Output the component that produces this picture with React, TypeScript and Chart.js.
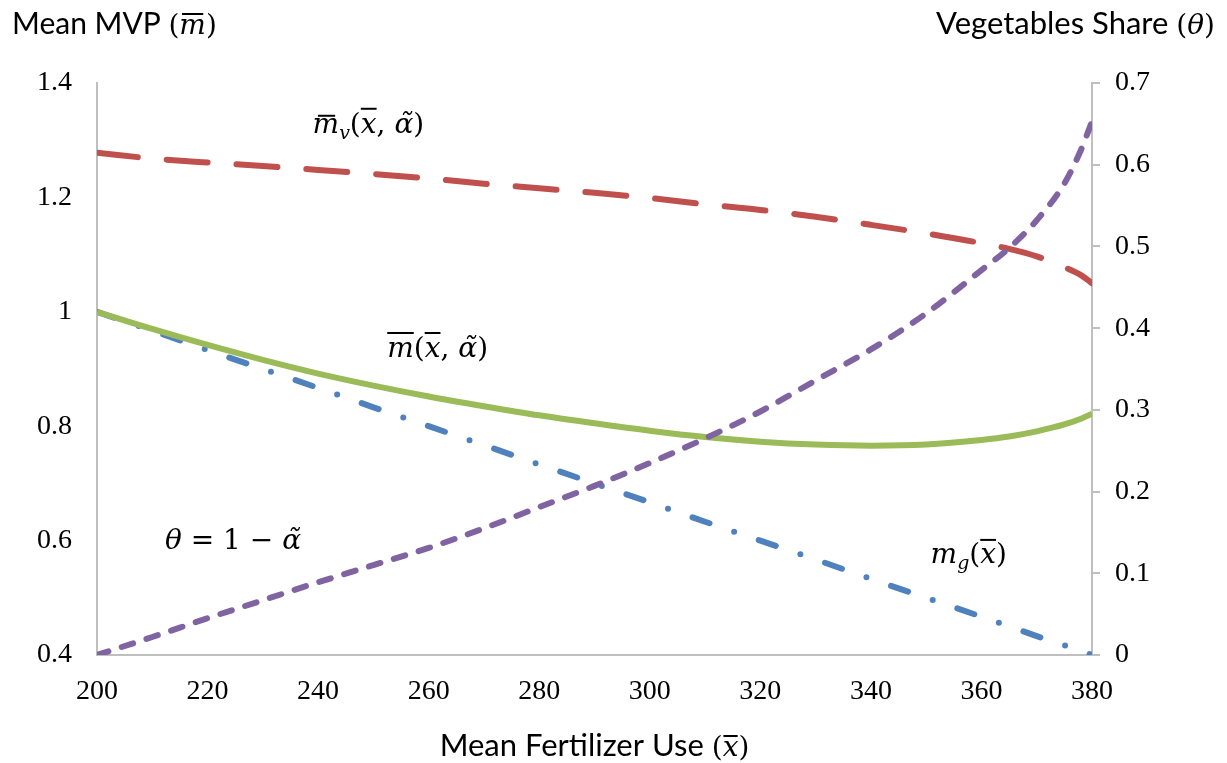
import React, { useEffect, useRef } from 'react';
import { Chart, registerables } from 'chart.js';

Chart.register(...registerables);

// Mean fertilizer use (x axis)
const fertilizer = [200, 210, 220, 230, 240, 250, 260, 270, 280, 290, 300, 310, 320, 330, 340, 350, 360, 365, 370, 375, 378, 380];
// m̄_v(x̄, α̃) – vegetables MVP (left axis)
const mvpVegetables = [1.278, 1.268, 1.261, 1.255, 1.248, 1.241, 1.233, 1.224, 1.216, 1.208, 1.199, 1.188, 1.178, 1.166, 1.152, 1.137, 1.120, 1.110, 1.097, 1.078, 1.064, 1.050];
// m̄(x̄, α̃) – mean MVP (left axis)
const mvpMean = [1.0, 0.970, 0.942, 0.916, 0.892, 0.871, 0.852, 0.835, 0.819, 0.805, 0.792, 0.781, 0.773, 0.768, 0.766, 0.768, 0.776, 0.782, 0.791, 0.803, 0.813, 0.822];
// m_g(x̄) – grain MVP (left axis)
const mvpGrain = [1.0, 0.967, 0.933, 0.9, 0.867, 0.833, 0.8, 0.767, 0.733, 0.7, 0.667, 0.633, 0.6, 0.567, 0.533, 0.5, 0.467, 0.45, 0.433, 0.417, 0.407, 0.4];
// θ = 1 − α̃ – vegetables share (right axis)
const vegShare = [0, 0.022, 0.045, 0.067, 0.089, 0.110, 0.131, 0.155, 0.181, 0.207, 0.235, 0.265, 0.298, 0.336, 0.374, 0.418, 0.471, 0.498, 0.532, 0.577, 0.618, 0.653];

const leftTitle = 'Mean MVP ';
const rightTitle = 'Vegetables Share ';
const bottomTitle = 'Mean Fertilizer Use ';

type Part = { t: string; f: string; dy?: number; bar?: [number, number, number] };

const SANS = '31px "Lato"';
const SANS_L = '30px "Lato"';
const MI = 'italic 28px "DejaVu Serif"';
const MU = '28px "DejaVu Serif"';
const MS = 'italic 19px "DejaVu Serif"';

function drawRich(ctx: CanvasRenderingContext2D, parts: Part[], x: number, y: number, align: 'left' | 'center' | 'right') {
  const widths = parts.map((p) => {
    ctx.font = p.f;
    return ctx.measureText(p.t).width;
  });
  const total = widths.reduce((a, b) => a + b, 0);
  let cx = align === 'center' ? x - total / 2 : align === 'right' ? x - total : x;
  ctx.textAlign = 'left';
  ctx.textBaseline = 'alphabetic';
  parts.forEach((p, i) => {
    ctx.font = p.f;
    ctx.fillText(p.t, cx, y + (p.dy || 0));
    if (p.bar) {
      const [b0, b1, h] = p.bar;
      ctx.fillRect(cx + widths[i] * b0, y - h, widths[i] * (b1 - b0), 2);
    }
    cx += widths[i];
  });
}

const textPlugin = {
  id: 'mathText',
  afterDraw(chart: any) {
    const ctx: CanvasRenderingContext2D = chart.ctx;
    const xs = chart.scales.x;
    const ys = chart.scales.y;
    ctx.save();
    ctx.fillStyle = '#000';
    // axis titles
    drawRich(ctx, [
      { t: leftTitle, f: SANS_L },
      { t: '(', f: MU },
      { t: 'm', f: MI, bar: [0.1, 0.9, 21] },
      { t: ')', f: MU },
    ], 12, 34, 'left');
    drawRich(ctx, [
      { t: rightTitle, f: SANS },
      { t: '(', f: MU },
      { t: 'θ', f: MI },
      { t: ')', f: MU },
    ], 1215, 34, 'right');
    drawRich(ctx, [
      { t: bottomTitle, f: SANS },
      { t: '(', f: MU },
      { t: 'x', f: MI, bar: [0.05, 0.95, 21] },
      { t: ')', f: MU },
    ], (chart.chartArea.left + chart.chartArea.right) / 2, 756, 'center');

    // curve labels (data coordinates on the left axis)
    drawRich(ctx, [
      { t: 'm', f: MI, bar: [0.2, 0.85, 18] },
      { t: 'v', f: MS, dy: 6 },
      { t: '(', f: MU },
      { t: 'x', f: MI, bar: [0, 1, 25] },
      { t: ', ', f: MU },
      { t: 'α\u0303', f: MI },
      { t: ')', f: MU },
    ], xs.getPixelForValue(239), ys.getPixelForValue(1.313), 'left');
    drawRich(ctx, [
      { t: 'm', f: MI, bar: [0, 1, 25] },
      { t: '(', f: MU },
      { t: 'x', f: MI, bar: [0, 1, 25] },
      { t: ', ', f: MU },
      { t: 'α\u0303', f: MI },
      { t: ')', f: MU },
    ], xs.getPixelForValue(252.5), ys.getPixelForValue(0.921), 'left');
    drawRich(ctx, [
      { t: 'θ', f: MI },
      { t: ' = 1 − ', f: MU },
      { t: 'α\u0303', f: MI },
    ], xs.getPixelForValue(212.3), ys.getPixelForValue(0.585), 'left');
    drawRich(ctx, [
      { t: 'm', f: MI },
      { t: 'g', f: MS, dy: 6 },
      { t: '(', f: MU },
      { t: 'x', f: MI, bar: [0, 1, 24] },
      { t: ')', f: MU },
    ], xs.getPixelForValue(350.8), ys.getPixelForValue(0.561), 'left');
    ctx.restore();
  },
};

export default function App() {
  const ref = useRef<HTMLCanvasElement | null>(null);

  useEffect(() => {
    if (!ref.current) return;
    const pts = (vals: number[]) => fertilizer.map((x, i) => ({ x, y: vals[i] }));
    const tickFont = { family: '"Liberation Serif"', size: 28 };
    const axisColor = '#BFBFBF';
    const chart = new Chart(ref.current, {
      type: 'line',
      data: {
        datasets: [
          {
            label: 'θ = 1 − α̃',
            data: pts(vegShare),
            yAxisID: 'y1',
            borderColor: '#8064A2',
            borderWidth: 6,
            borderDash: [12, 14],
            borderCapStyle: 'round',
            pointRadius: 0,
            cubicInterpolationMode: 'monotone',
            fill: false,
          },
          {
            label: 'm̄v(x̄, α̃)',
            data: pts(mvpVegetables),
            yAxisID: 'y',
            borderColor: '#C0504D',
            borderWidth: 6,
            borderDash: [41, 29],
            borderCapStyle: 'round',
            pointRadius: 0,
            cubicInterpolationMode: 'monotone',
            fill: false,
          },
          {
            label: 'm̄(x̄, α̃)',
            data: pts(mvpMean),
            yAxisID: 'y',
            borderColor: '#9BBB59',
            borderWidth: 6,
            pointRadius: 0,
            cubicInterpolationMode: 'monotone',
            fill: false,
          },
          {
            label: 'mg(x̄)',
            data: pts(mvpGrain),
            yAxisID: 'y',
            borderColor: '#4F81BD',
            borderWidth: 6,
            borderDash: [18, 26, 0, 26],
            borderCapStyle: 'round',
            pointRadius: 0,
            fill: false,
          },
        ],
      } as any,
      options: {
        animation: false,
        responsive: false,
        devicePixelRatio: 1,
        layout: { padding: { top: 83, left: 0, right: 0, bottom: 0 } },
        plugins: { legend: { display: false }, tooltip: { enabled: false } },
        scales: {
          x: {
            type: 'linear',
            min: 200,
            max: 380,
            ticks: { stepSize: 20, font: tickFont, color: '#000', padding: 20, maxRotation: 0, autoSkip: false, callback: (v: any) => String(v) },
            grid: { display: true, drawOnChartArea: false, drawTicks: false },
            border: { display: true, color: axisColor, width: 2 },
            afterFit: (s: any) => { s.height = 108; },
          },
          y: {
            position: 'left',
            min: 0.4,
            max: 1.4,
            ticks: { stepSize: 0.2, font: tickFont, color: '#000', padding: 25, callback: (v: any) => String(Number(Number(v).toFixed(1))) },
            grid: { display: true, drawOnChartArea: false, drawTicks: false },
            border: { display: true, color: axisColor, width: 2 },
            afterFit: (s: any) => { s.width = 97; },
          },
          y1: {
            position: 'right',
            min: 0,
            max: 0.7,
            ticks: { stepSize: 0.1, font: tickFont, color: '#000', padding: 15, callback: (v: any) => String(Number(Number(v).toFixed(1))) },
            grid: { display: true, drawOnChartArea: false, drawTicks: true, tickLength: 8, color: axisColor, lineWidth: 2 },
            border: { display: true, color: axisColor, width: 2 },
            afterFit: (s: any) => { s.width = 135; },
          },
        },
      } as any,
      plugins: [textPlugin],
    });
    return () => chart.destroy();
  }, []);

  return (
    <div style={{ position: 'absolute', left: 0, top: 0, width: 1227, height: 763, background: '#fff' }}>
      <canvas ref={ref} width={1227} height={763} style={{ display: 'block' }} />
    </div>
  );
}
